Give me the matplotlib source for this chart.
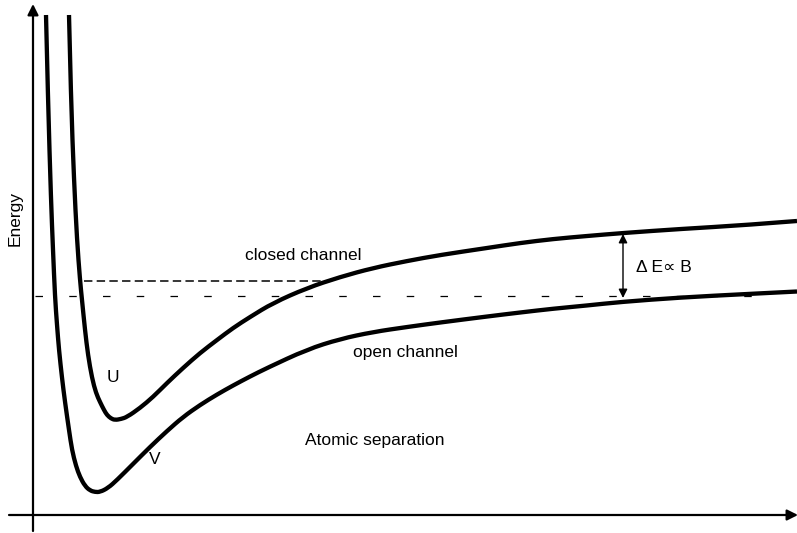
import matplotlib
matplotlib.use("Agg")
import matplotlib.pyplot as plt
from matplotlib.path import Path
from matplotlib.patches import PathPatch

plt.rcParams['font.family'] = ['Liberation Sans', 'DejaVu Sans']

# Data (x = atomic separation, y = vertical position, downwards)
closed_x = [69, 71, 74, 77, 80, 82, 85, 88, 92, 96, 100, 104, 107, 111, 115, 121, 127, 140,
            153, 167, 183, 200, 217, 233, 250, 273, 307, 340, 373, 407, 440, 487, 520,
            553, 587, 623, 680, 747, 797]
closed_y = [15, 100, 180, 240, 280, 300, 330, 355, 378, 393, 402, 410, 415, 418.5, 420, 419,
            417, 408, 397, 383, 368, 353, 340, 328, 317, 303, 288, 277, 268, 261, 255, 248, 243,
            239, 236, 233, 229, 225, 221]

open_x = [46, 48, 51, 53, 55, 57, 59, 62, 65, 69, 72, 76, 80, 85, 90, 95, 100, 108, 117,
          133, 150, 167, 183, 200, 217, 233, 250, 267, 307, 340, 373, 407, 440, 487, 520,
          553, 587, 620, 680, 747, 797]
open_y = [15, 100, 200, 250, 297, 325, 350, 378, 402, 430, 450, 466, 477, 486, 490.5, 492,
          492, 488, 480, 464, 447, 431, 417, 405, 394.5, 385.5, 376.5, 368, 349.5, 339, 332, 327,
          322.5, 316.5, 312.5, 308.7, 305.5, 302, 297.5, 294, 291.5]

bound_level = 281        # closed-channel bound state
bound_x = [84, 330]
threshold_level = 295.5  # open-channel threshold
threshold_x = [35, 752]
gap_x = 623
gap_top, gap_bottom = 234, 298


def smooth_path(xs, ys):
    """Quadratic Bezier path using the read points as control points."""
    pts = list(zip(xs, ys))
    verts = [pts[0]]
    codes = [Path.MOVETO]
    for i in range(1, len(pts) - 1):
        mid = ((pts[i][0] + pts[i + 1][0]) / 2, (pts[i][1] + pts[i + 1][1]) / 2)
        if i == len(pts) - 2:
            mid = pts[-1]
        verts += [pts[i], mid]
        codes += [Path.CURVE3, Path.CURVE3]
    return Path(verts, codes)


fig = plt.figure(figsize=(7.97, 5.33), dpi=100)
ax = fig.add_axes([0, 0, 1, 1])
ax.set_xlim(0, 797)
ax.set_ylim(533, 0)
ax.axis('off')

# axes arrows
ax.annotate('', xy=(33, 4), xytext=(33, 531), annotation_clip=False,
            arrowprops=dict(arrowstyle='-|>', lw=1.6, color='black',
                            mutation_scale=16, shrinkA=0, shrinkB=0))
ax.annotate('', xy=(798, 515), xytext=(9, 515), annotation_clip=False,
            arrowprops=dict(arrowstyle='-|>', lw=1.6, color='black',
                            mutation_scale=16, shrinkA=0, shrinkB=0))

# curves
for xs, ys in [(closed_x, closed_y), (open_x, open_y)]:
    ax.add_patch(PathPatch(smooth_path(xs, ys), facecolor='none', edgecolor='black',
                           lw=3.1, capstyle='butt', joinstyle='round'))

# dashed levels
ax.plot(bound_x, [bound_level, bound_level], color='black', lw=1.1, dashes=(5.5, 2.8))
ax.plot(threshold_x, [threshold_level, threshold_level], color='black', lw=0.9, dashes=(6, 21))

# energy gap arrow
ax.annotate('', xy=(gap_x, gap_top), xytext=(gap_x, gap_bottom),
            arrowprops=dict(arrowstyle='<|-|>', lw=1.0, color='black',
                            mutation_scale=13, shrinkA=0, shrinkB=0))

fs = 12.5
ax.text(636, 268, 'Δ E∝ B', fontsize=fs, va='center', ha='left')
ax.text(245, 256, 'closed channel', fontsize=fs, va='center', ha='left')
ax.text(353, 353, 'open channel', fontsize=fs, va='center', ha='left')
ax.text(305, 441, 'Atomic separation', fontsize=fs, va='center', ha='left')
ax.text(107, 377, 'U', fontsize=fs, va='center', ha='left')
ax.text(149, 459, 'V', fontsize=fs, va='center', ha='left')
ax.text(15, 218, 'Energy', fontsize=fs, va='center', ha='center', rotation=90)

fig.savefig('out.png', dpi=100)
